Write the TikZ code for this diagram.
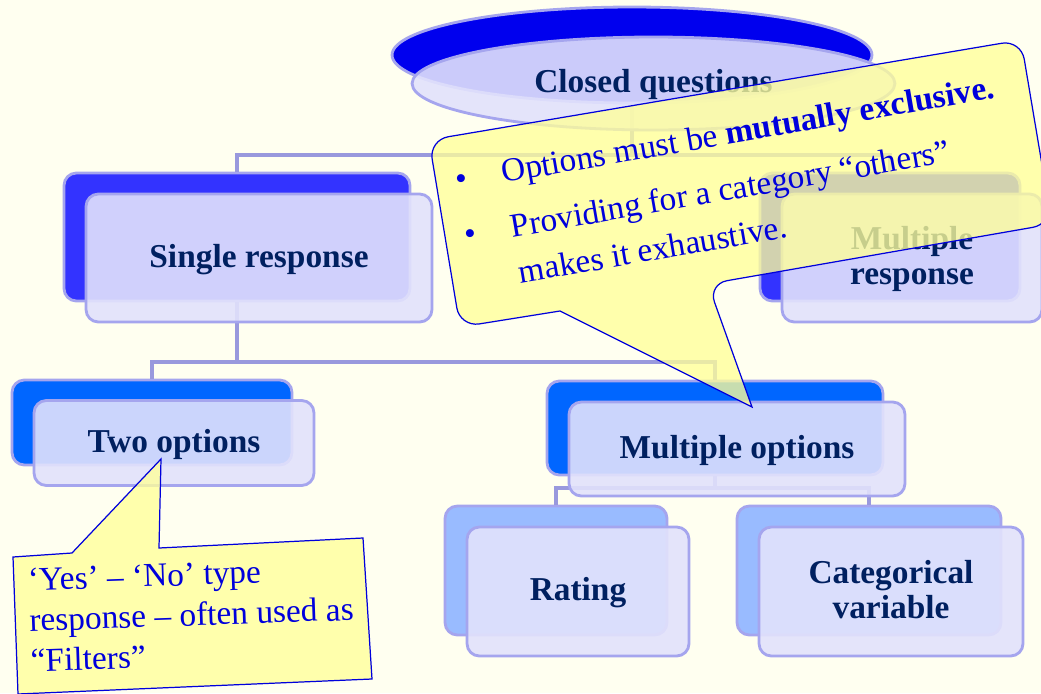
\documentclass[tikz,border=0pt]{standalone}
\usepackage{fontspec}
\setmainfont{Liberation Serif}
\usetikzlibrary{shapes.geometric}

\definecolor{paper}{RGB}{255,255,240}
\definecolor{navy}{RGB}{0,32,96}
\definecolor{rim}{RGB}{165,165,238}
\definecolor{lavender}{RGB}{226,226,252}
\definecolor{wire}{RGB}{153,153,221}
\definecolor{deepblue}{RGB}{0,0,238}
\definecolor{royal}{RGB}{51,51,255}
\definecolor{azure}{RGB}{0,102,255}
\definecolor{skyblue}{RGB}{153,187,255}
\definecolor{note}{RGB}{255,255,153}
\definecolor{noteink}{RGB}{0,0,220}

\tikzset{
  backbox/.style={draw=rim, line width=1.6pt, rounded corners=7pt, fill=#1, inner sep=0pt},
  frontbox/.style={draw=rim, line width=1.6pt, rounded corners=7pt, fill=lavender, fill opacity=0.9, text opacity=1, text=navy, font=\fontsize{19}{20}\selectfont\bfseries, align=center, inner sep=0pt, text depth=0.25em},
  link/.style={draw=wire, line width=1.8pt},
  callout/.style={draw=noteink, line width=0.7pt, fill=note, fill opacity=0.78},
  notetext/.style={text=noteink, inner sep=0pt, font=\fontsize{19}{26.5}\selectfont},
}

\begin{document}
\begin{tikzpicture}[x=0.02cm, y=-0.02cm]
\useasboundingbox (0,0) rectangle (1041,693);
\clip (0,0) rectangle (1041,693);
\fill[paper] (0,0) rectangle (1041,693);

\node[backbox=deepblue, ellipse, minimum width=9.6cm, minimum height=1.92cm] (closedB) at (632,55) {};
\node[backbox=royal, minimum width=6.92cm, minimum height=2.56cm] (singleB) at (237,237) {};
\node[backbox=royal, minimum width=5.2cm, minimum height=2.56cm] (multirB) at (890,237) {};
\node[backbox=azure, minimum width=5.6cm, minimum height=1.7cm] (twoB) at (152,422.5) {};
\node[backbox=azure, minimum width=6.72cm, minimum height=1.88cm] (multoB) at (715,428) {};
\node[backbox=skyblue, minimum width=4.44cm, minimum height=2.58cm] (ratingB) at (556,570.5) {};
\node[backbox=skyblue, minimum width=5.28cm, minimum height=2.58cm] (catB) at (869,570.5) {};

\coordinate (closedbus) at (632,155);
\coordinate (singlebus) at (237,362);
\coordinate (multobus) at (715,488);
\draw[link] (closedB.south) -- (closedbus) -| (singleB.north);
\draw[link] (closedbus) -| (multirB.north);
\draw[link] (singleB.south) -- (singlebus) -| (twoB.north);
\draw[link] (singlebus) -| (multoB.north);
\draw[link] (multoB.south) -- (multobus) -| (ratingB.north);
\draw[link] (multobus) -| (catB.north);

\node[frontbox, ellipse, minimum width=9.66cm, minimum height=1.86cm] (closed) at (653.5,83.5) {Closed questions};
\node[frontbox, minimum width=6.92cm, minimum height=2.56cm] (single) at (259,258) {Single response};
\node[frontbox, minimum width=5.2cm, minimum height=2.56cm] (multir) at (912,258) {Multiple\\response};
\node[frontbox, minimum width=5.6cm, minimum height=1.7cm] (two) at (174,443) {Two options};
\node[frontbox, minimum width=6.72cm, minimum height=1.88cm] (multo) at (737,449) {Multiple options};
\node[frontbox, minimum width=4.44cm, minimum height=2.58cm] (rating) at (578,591.5) {Rating};
\node[frontbox, minimum width=5.28cm, minimum height=2.58cm] (cat) at (891,591.5) {Categorical\\variable};

\draw[callout] (752,407) -- (560,311) [rounded corners=11pt] -- (460,327) -- (429,140) -- (1021,40) -- (1052,224) -- (708,284) [sharp corners] -- cycle;
\node[notetext, rotate=9.8, anchor=base west] (tipA) at (457,191) {\begin{tabular}[t]{@{}l@{\hspace{20pt}}l@{}}\textbullet & Options must be \textbf{mutually exclusive.}\\[5pt]
\textbullet & Providing for a category “others”\\
 & makes it exhaustive.\end{tabular}};

\draw[callout] (161,459) -- (159,548) -- (363,538) -- (372,679) -- (18,694) -- (13,557) -- (72,553) -- cycle;
\node[notetext, font=\fontsize{19}{23}\selectfont, rotate=2, anchor=base west] (tipB) at (28,591) {\begin{tabular}[t]{@{}l@{}}‘Yes’ – ‘No’ type\\
response – often used as\\
“Filters”\end{tabular}};
\end{tikzpicture}
\end{document}
